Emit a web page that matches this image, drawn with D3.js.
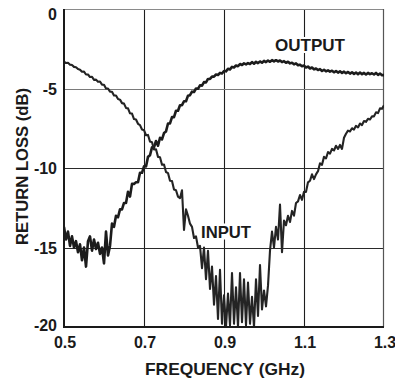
<!DOCTYPE html>
<html>
<head>
<meta charset="utf-8">
<script src="https://cdn.jsdelivr.net/npm/d3@7"></script>
<style>
  html, body { margin: 0; padding: 0; background: #ffffff; }
  svg { display: block; }
  text { font-family: "Liberation Sans", Arial, sans-serif; font-weight: bold; fill: #1a1a1a; }
</style>
</head>
<body>
<svg id="chart" width="395" height="384"></svg>
<script>
// ---------- DATA ----------
const xTicks = [0.5, 0.7, 0.9, 1.1, 1.3];
const xTickLabels = ["0.5", "0.7", "0.9", "1.1", "1.3"];
const yTicks = [0, -5, -10, -15, -20];
const yTickLabels = ["0", "-5", "-10", "-15", "-20"];
const xTitle = "FREQUENCY (GHz)";
const yTitle = "RETURN LOSS (dB)";
const seriesNames = ["INPUT", "OUTPUT"];

// traces sampled every 0.005 GHz from 0.5 GHz
const freqStart = 0.5;
const freqStep = 0.005;

const inputDb = [
  -3.30,-3.40,-3.38,-3.50,-3.52,-3.64,-3.66,-3.78,-3.82,-3.95,
  -3.94,-4.12,-4.12,-4.28,-4.26,-4.46,-4.44,-4.58,-4.56,-4.76,
  -4.76,-5.00,-5.00,-5.20,-5.20,-5.44,-5.44,-5.66,-5.70,-5.92,
  -5.95,-6.22,-6.25,-6.56,-6.58,-6.92,-6.95,-7.22,-7.30,-7.58,
  -7.62,-7.94,-7.92,-8.34,-8.38,-8.84,-8.82,-9.30,-9.32,-9.80,
  -9.78,-10.25,-10.32,-10.80,-10.82,-11.35,-11.40,-11.80,-11.90,-11.40,
  -13.90,-12.60,-13.00,-13.50,-13.70,-14.40,-14.30,-15.00,-14.90,-16.30,
  -15.00,-17.00,-15.20,-17.60,-16.20,-18.60,-16.80,-19.50,-16.40,-19.80,
  -18.00,-20.00,-17.90,-19.90,-16.60,-19.80,-17.50,-20.00,-16.60,-19.70,
  -17.00,-19.90,-17.20,-19.80,-18.10,-20.00,-17.00,-19.30,-16.10,-18.90,
  -17.70,-18.70,-17.40,-15.20,-14.00,-15.00,-13.70,-14.50,-12.30,-15.30,
  -13.30,-13.60,-13.00,-13.40,-12.70,-13.00,-12.20,-12.10,-11.70,-12.00,
  -11.50,-11.50,-10.90,-10.80,-10.40,-10.70,-10.40,-10.20,-9.70,-9.80,
  -9.30,-9.40,-9.00,-9.10,-8.80,-8.90,-8.60,-8.80,-8.55,-8.80,
  -8.10,-7.85,-7.65,-7.70,-7.50,-7.58,-7.35,-7.45,-7.20,-7.30,
  -7.05,-7.10,-6.90,-6.95,-6.75,-6.75,-6.50,-6.55,-6.25,-6.28,
  -6.05
];

const outputDb = [
  -13.7,-14.5,-14.0,-14.9,-14.3,-15.0,-14.6,-15.3,-14.8,-15.8,
  -15.0,-16.2,-14.6,-14.3,-15.2,-14.5,-15.1,-14.7,-15.4,-15.0,
  -16.0,-14.0,-15.5,-14.9,-13.5,-13.7,-13.0,-13.1,-12.6,-12.6,
  -12.2,-12.2,-11.5,-11.8,-11.0,-11.0,-10.9,-10.9,-10.3,-10.3,
  -9.9,-9.9,-9.3,-9.2,-8.7,-8.7,-8.3,-8.6,-8.1,-8.2,
  -7.8,-7.7,-7.2,-7.2,-6.8,-6.8,-6.4,-6.4,-6.05,-6.05,
  -5.8,-5.8,-5.45,-5.42,-5.2,-5.22,-5.0,-5.02,-4.8,-4.82,
  -4.6,-4.62,-4.4,-4.4,-4.25,-4.25,-4.12,-4.15,-4.02,-4.06,
  -3.90,-3.92,-3.76,-3.80,-3.64,-3.68,-3.55,-3.60,-3.46,-3.52,
  -3.42,-3.48,-3.40,-3.46,-3.34,-3.44,-3.32,-3.40,-3.30,-3.38,
  -3.26,-3.34,-3.24,-3.32,-3.22,-3.30,-3.22,-3.30,-3.24,-3.34,
  -3.28,-3.38,-3.32,-3.42,-3.38,-3.48,-3.42,-3.54,-3.50,-3.60,
  -3.56,-3.68,-3.62,-3.74,-3.68,-3.80,-3.74,-3.84,-3.78,-3.90,
  -3.82,-3.92,-3.86,-3.94,-3.88,-3.98,-3.90,-4.00,-3.92,-4.02,
  -3.94,-4.04,-3.96,-4.06,-3.98,-4.08,-4.00,-4.10,-4.00,-4.10,
  -4.02,-4.12,-4.02,-4.10,-4.04,-4.12,-4.02,-4.14,-4.06,-4.16,
  -4.16
];

// ---------- LAYOUT ----------
const plot = { left: 64, right: 384, top: 9, bottom: 327 };
const svg = d3.select("#chart");

const x = d3.scaleLinear().domain([0.5, 1.3]).range([plot.left, plot.right]);
const y = d3.scaleLinear().domain([0, -20]).range([plot.top, plot.bottom]);

svg.append("defs").append("clipPath").attr("id", "clip")
  .append("rect")
  .attr("x", plot.left).attr("y", plot.top - 1)
  .attr("width", plot.right - plot.left).attr("height", plot.bottom - plot.top + 2);

svg.append("rect")
  .attr("x", plot.left).attr("y", plot.top)
  .attr("width", plot.right - plot.left).attr("height", plot.bottom - plot.top)
  .attr("fill", "#ffffff");

// grid lines
const grid = svg.append("g");
grid.selectAll("line.v").data(xTicks.slice(1, -1)).enter().append("line")
  .attr("x1", d => Math.round(x(d)) + 0.5).attr("x2", d => Math.round(x(d)) + 0.5)
  .attr("y1", plot.top).attr("y2", plot.bottom)
  .attr("stroke", "#1e1e1e").attr("stroke-width", 1.1);
grid.selectAll("line.h").data(yTicks.slice(1, -1)).enter().append("line")
  .attr("x1", plot.left).attr("x2", plot.right)
  .attr("y1", d => Math.round(y(d)) + 0.5).attr("y2", d => Math.round(y(d)) + 0.5)
  .attr("stroke", d => d === -5 ? "#7a7a7a" : "#2a2a2a").attr("stroke-width", 1.1);

// top & right frame
svg.append("line").attr("x1", plot.left).attr("x2", plot.right)
  .attr("y1", plot.top + 0.5).attr("y2", plot.top + 0.5)
  .attr("stroke", "#8a8a8a").attr("stroke-width", 1.2);
svg.append("line").attr("x1", plot.right - 0.5).attr("x2", plot.right - 0.5)
  .attr("y1", plot.top).attr("y2", plot.bottom)
  .attr("stroke", "#555").attr("stroke-width", 1.2);

// series
const toPoints = arr => arr.map((v, i) => [freqStart + i * freqStep, v]);
const line = d3.line().x(d => x(d[0])).y(d => y(d[1]));

const curves = svg.append("g").attr("clip-path", "url(#clip)");
curves.append("path")
  .attr("d", line(toPoints(outputDb)))
  .attr("fill", "none").attr("stroke", "#1c1c1c")
  .attr("stroke-width", 2.6).attr("stroke-linejoin", "round");
curves.append("path")
  .attr("d", line(toPoints(inputDb)))
  .attr("fill", "none").attr("stroke", "#242424")
  .attr("stroke-width", 2.1).attr("stroke-linejoin", "round");

// axes lines (left & bottom)
svg.append("line").attr("x1", plot.left).attr("x2", plot.left)
  .attr("y1", plot.top).attr("y2", plot.bottom + 1)
  .attr("stroke", "#1a1a1a").attr("stroke-width", 2);
svg.append("line").attr("x1", plot.left).attr("x2", plot.right)
  .attr("y1", plot.bottom).attr("y2", plot.bottom)
  .attr("stroke", "#1a1a1a").attr("stroke-width", 2);

// tick labels
svg.append("g").selectAll("text").data(xTicks).enter().append("text")
  .attr("x", d => x(d) + 1).attr("y", 348)
  .attr("text-anchor", "middle").attr("font-size", 16)
  .text((d, i) => xTickLabels[i]);

const yLabelShift = v => v === 0 ? 4.5 : (v === -20 ? -2.5 : 0);
svg.append("g").selectAll("text").data(yTicks).enter().append("text")
  .attr("x", 57).attr("y", d => y(d) + yLabelShift(d) + 6)
  .attr("text-anchor", "end").attr("font-size", 16)
  .text((d, i) => yTickLabels[i]);

// axis titles
svg.append("text")
  .attr("x", 225).attr("y", 375)
  .attr("text-anchor", "middle").attr("font-size", 17)
  .attr("textLength", 160).attr("lengthAdjust", "spacingAndGlyphs")
  .text(xTitle);
svg.append("text")
  .attr("transform", "translate(27.5,166.5) rotate(-90)")
  .attr("text-anchor", "middle").attr("font-size", 16.5)
  .attr("textLength", 157).attr("lengthAdjust", "spacingAndGlyphs")
  .text(yTitle);

// series labels with white backing
function seriesLabel(txt, xPos, yBase, w) {
  svg.append("rect").attr("x", xPos - 2).attr("y", yBase - 14)
    .attr("width", w + 4).attr("height", 16).attr("fill", "#ffffff");
  svg.append("text").attr("x", xPos).attr("y", yBase)
    .attr("font-size", 17).attr("textLength", w).attr("lengthAdjust", "spacingAndGlyphs")
    .text(txt);
}
seriesLabel(seriesNames[0], 201, 237.5, 50);
seriesLabel(seriesNames[1], 275, 51, 70);
</script>
</body>
</html>
